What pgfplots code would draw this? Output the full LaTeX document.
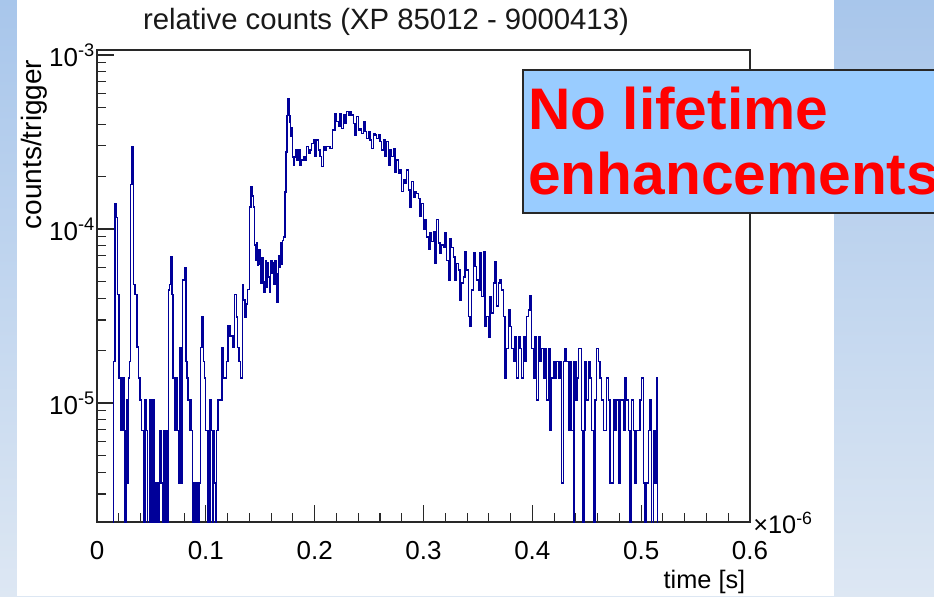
\documentclass[border=0pt]{standalone}
\usepackage{fontspec}
\setmainfont{Liberation Sans}
\usepackage{pgfplots}
\pgfplotsset{compat=1.18}
\definecolor{histblue}{RGB}{0,0,153}
\definecolor{boxblue}{RGB}{153,204,255}
\definecolor{bgtop}{RGB}{168,198,235}
\definecolor{bgbot}{RGB}{221,231,243}
\definecolor{axisgray}{RGB}{40,40,40}

\begin{document}
\begin{tikzpicture}
\begin{scope}[x=0.75pt,y=0.75pt]
\useasboundingbox (0,0) rectangle (934,596);
\clip (0,0) rectangle (934,596);
\shade[top color=bgtop, bottom color=bgbot] (0,0) rectangle (934,596);
\fill[white] (17,0) rectangle (834,596);
\end{scope}

\begin{axis}[
  at={(72.75pt,55.5pt)}, anchor=south west,
  scale only axis, width=489.75pt, height=354pt,
  ymode=log,
  xmin=0, xmax=0.6, ymin=2.07e-6, ymax=1.068e-3,
  axis line style={axisgray, line width=0.8pt},
  tick align=inside, xtick pos=bottom, ytick pos=left,
  xtick={0,0.1,0.2,0.3,0.4,0.5,0.6},
  xticklabels={0,0.1,0.2,0.3,0.4,0.5,0.6},
  minor x tick num=4,
  ytick={1e-5,1e-4,1e-3},
  yticklabels={10\textsuperscript{-5},10\textsuperscript{-4},10\textsuperscript{-3}},
  minor ytick={3e-6,4e-6,5e-6,6e-6,7e-6,8e-6,9e-6,2e-5,3e-5,4e-5,5e-5,6e-5,7e-5,8e-5,9e-5,2e-4,3e-4,4e-4,5e-4,6e-4,7e-4,8e-4,9e-4},
  major tick length=13pt, minor tick length=6.5pt,
  every tick/.style={axisgray, line width=0.8pt},
  /pgf/number format/assume math mode=true,
  ticklabel style={font=\fontsize{19.5}{21}\selectfont, text=black},
  xticklabel style={yshift=-11pt},
  yticklabel style={xshift=2pt},
]
% counts per trigger
\addplot[const plot mark left, histblue, line width=1.1pt, no marks] coordinates {
(0.0000,1e-7) (0.0150,1.73e-5) (0.0165,1.40e-4) (0.0176,1.16e-4) (0.0188,4.20e-5)
(0.0200,1.39e-5) (0.0216,6.94e-6) (0.0224,1.39e-5) (0.0232,6.94e-6) (0.0240,1.39e-5)
(0.0250,6.94e-6) (0.0258,1e-7) (0.0266,3.47e-6) (0.0274,1.04e-5) (0.0282,3.47e-6)
(0.0290,1.39e-5) (0.0298,1.73e-5) (0.0310,1.80e-4) (0.0320,2.95e-4) (0.0335,4.80e-5)
(0.0350,4.20e-5) (0.0366,2.10e-5) (0.0381,1.39e-5) (0.0396,1.04e-5) (0.0411,6.94e-6)
(0.0427,1e-7) (0.0440,1.04e-5) (0.0456,6.94e-6) (0.0466,1e-7) (0.0480,1.04e-5)
(0.0492,1e-7) (0.0502,1.04e-5) (0.0512,1e-7) (0.0520,1.04e-5) (0.0530,1e-7)
(0.0540,3.47e-6) (0.0560,1e-7) (0.0568,3.47e-6) (0.0580,6.94e-6) (0.0590,3.47e-6)
(0.0600,1e-7) (0.0610,6.94e-6) (0.0624,1e-7) (0.0636,6.94e-6) (0.0646,1e-7)
(0.0658,4.45e-5) (0.0668,4.80e-5) (0.0678,6.90e-5) (0.0690,4.20e-5) (0.0700,1.39e-5)
(0.0710,6.94e-6) (0.0718,1.39e-5) (0.0726,6.94e-6) (0.0734,1.39e-5) (0.0742,6.94e-6)
(0.0752,3.47e-6) (0.0764,2.08e-5) (0.0776,3.47e-6) (0.0788,5.10e-5) (0.0802,6.00e-5)
(0.0818,1.73e-5) (0.0828,1.39e-5) (0.0838,1.04e-5) (0.0848,6.94e-6) (0.0858,1.04e-5)
(0.0868,6.94e-6) (0.0878,1e-7) (0.0890,3.47e-6) (0.0904,1e-7) (0.0916,3.47e-6)
(0.0930,1e-7) (0.0940,3.47e-6) (0.0950,2.08e-5) (0.0964,3.12e-5) (0.0978,1.73e-5)
(0.0988,1.39e-5) (0.0998,6.94e-6) (0.1020,1e-7) (0.1040,1.04e-5) (0.1050,6.94e-6)
(0.1060,1e-7) (0.1070,6.94e-6) (0.1080,3.47e-6) (0.1090,1e-7) (0.1100,6.94e-6)
(0.1110,1.04e-5) (0.1148,2.08e-5) (0.1162,1.39e-5) (0.1190,1.73e-5) (0.1205,2.78e-5)
(0.1220,2.43e-5) (0.1250,2.08e-5) (0.1265,4.20e-5) (0.1280,3.12e-5) (0.1290,2.08e-5)
(0.1305,1.73e-5) (0.1318,1.39e-5) (0.1335,4.80e-5) (0.1348,3.90e-5) (0.1360,3.12e-5)
(0.1370,3.70e-5) (0.1385,4.50e-5) (0.1400,1.34e-4) (0.1415,1.75e-4) (0.1428,1.55e-4)
(0.1438,1.34e-4) (0.1446,8.10e-5) (0.1456,6.60e-5) (0.1466,8.30e-5) (0.1476,6.20e-5)
(0.1486,7.60e-5) (0.1496,6.30e-5) (0.1506,4.90e-5) (0.1516,6.80e-5) (0.1526,5.00e-5)
(0.1536,4.30e-5) (0.1546,6.60e-5) (0.1556,4.60e-5) (0.1566,6.40e-5) (0.1576,5.30e-5)
(0.1586,4.30e-5) (0.1596,6.60e-5) (0.1606,5.60e-5) (0.1616,6.40e-5) (0.1626,4.80e-5)
(0.1636,6.60e-5) (0.1646,5.50e-5) (0.1656,3.80e-5) (0.1666,7.00e-5) (0.1676,6.00e-5)
(0.1686,8.30e-5) (0.1696,6.30e-5) (0.1706,8.60e-5) (0.1716,9.00e-5) (0.1726,1.63e-4)
(0.1736,2.77e-4) (0.1746,4.50e-4) (0.1754,5.60e-4) (0.1764,4.50e-4) (0.1772,4.10e-4)
(0.1780,3.40e-4) (0.1788,3.80e-4) (0.1796,2.60e-4) (0.1806,2.33e-4) (0.1816,2.60e-4)
(0.1826,2.85e-4) (0.1836,2.49e-4) (0.1850,2.85e-4) (0.1865,2.33e-4) (0.1880,2.49e-4)
(0.1896,2.61e-4) (0.1911,2.49e-4) (0.1927,2.97e-4) (0.1942,2.73e-4) (0.1957,2.85e-4)
(0.1973,3.11e-4) (0.1988,3.25e-4) (0.2003,2.61e-4) (0.2019,3.25e-4) (0.2034,2.85e-4)
(0.2049,2.61e-4) (0.2065,2.28e-4) (0.2080,2.97e-4) (0.2095,2.85e-4) (0.2111,2.97e-4)
(0.2141,2.90e-4) (0.2163,3.70e-4) (0.2187,4.62e-4) (0.2202,4.15e-4) (0.2218,3.88e-4)
(0.2233,4.62e-4) (0.2248,3.79e-4) (0.2264,4.52e-4) (0.2279,4.05e-4) (0.2294,4.72e-4)
(0.2310,4.52e-4) (0.2325,4.72e-4) (0.2340,4.52e-4) (0.2355,4.05e-4) (0.2371,3.47e-4)
(0.2386,4.43e-4) (0.2401,3.70e-4) (0.2417,3.79e-4) (0.2432,3.55e-4) (0.2447,4.15e-4)
(0.2463,3.63e-4) (0.2478,3.32e-4) (0.2493,3.63e-4) (0.2509,3.25e-4) (0.2524,2.90e-4)
(0.2539,3.55e-4) (0.2555,3.47e-4) (0.2570,3.32e-4) (0.2585,3.47e-4) (0.2601,3.18e-4)
(0.2616,2.85e-4) (0.2631,3.25e-4) (0.2646,2.61e-4) (0.2662,3.18e-4) (0.2677,2.33e-4)
(0.2692,2.85e-4) (0.2708,2.61e-4) (0.2723,2.90e-4) (0.2738,2.13e-4) (0.2754,2.49e-4)
(0.2769,2.09e-4) (0.2784,2.18e-4) (0.2800,1.64e-4) (0.2815,1.91e-4) (0.2830,1.83e-4)
(0.2846,2.18e-4) (0.2861,1.68e-4) (0.2876,1.34e-4) (0.2892,1.87e-4) (0.2907,1.53e-4)
(0.2922,1.64e-4) (0.2937,1.60e-4) (0.2953,1.50e-4) (0.2968,1.18e-4) (0.2983,1.40e-4)
(0.2999,9.90e-5) (0.3014,1.13e-4) (0.3029,9.00e-5) (0.3045,7.60e-5) (0.3060,9.50e-5)
(0.3075,8.50e-5) (0.3090,9.70e-5) (0.3106,6.35e-5) (0.3121,1.13e-4) (0.3136,8.30e-5)
(0.3152,7.30e-5) (0.3167,8.10e-5) (0.3182,7.90e-5) (0.3198,9.50e-5) (0.3213,6.60e-5)
(0.3228,5.10e-5) (0.3244,8.80e-5) (0.3259,7.80e-5) (0.3274,6.90e-5) (0.3290,5.10e-5)
(0.3305,6.35e-5) (0.3320,5.80e-5) (0.3335,3.90e-5) (0.3351,4.88e-5) (0.3366,5.30e-5)
(0.3381,7.40e-5) (0.3397,5.80e-5) (0.3412,3.14e-5) (0.3427,2.75e-5) (0.3443,4.46e-5)
(0.3458,7.30e-5) (0.3473,6.10e-5) (0.3489,5.10e-5) (0.3504,4.46e-5) (0.3519,7.30e-5)
(0.3535,4.10e-5) (0.3550,7.40e-5) (0.3565,2.75e-5) (0.3581,3.14e-5) (0.3596,2.40e-5)
(0.3611,4.10e-5) (0.3626,3.30e-5) (0.3642,4.88e-5) (0.3657,6.50e-5) (0.3672,3.60e-5)
(0.3688,4.88e-5) (0.3703,5.10e-5) (0.3718,4.46e-5) (0.3734,3.14e-5) (0.3749,1.39e-5)
(0.3764,2.06e-5) (0.3780,3.42e-5) (0.3795,2.75e-5) (0.3810,2.06e-5) (0.3826,1.73e-5)
(0.3841,2.40e-5) (0.3856,1.39e-5) (0.3871,2.40e-5) (0.3887,2.06e-5) (0.3902,1.39e-5)
(0.3917,2.40e-5) (0.3933,1.73e-5) (0.3948,3.14e-5) (0.3963,3.42e-5) (0.3979,4.16e-5)
(0.3994,2.06e-5) (0.4009,1.39e-5) (0.4025,2.40e-5) (0.4040,1.04e-5) (0.4055,2.40e-5)
(0.4071,1.73e-5) (0.4086,2.06e-5) (0.4101,1.39e-5) (0.4117,2.06e-5) (0.4132,1.04e-5)
(0.4147,2.06e-5) (0.4162,6.94e-6) (0.4178,1.39e-5) (0.4193,1.73e-5) (0.4208,1.39e-5)
(0.4224,1.73e-5) (0.4239,1.39e-5) (0.4254,1.73e-5) (0.4270,3.47e-6) (0.4285,1.73e-5)
(0.4300,2.06e-5) (0.4316,1.73e-5) (0.4331,6.94e-6) (0.4346,1.73e-5) (0.4361,6.94e-6)
(0.4377,1e-7) (0.4383,1.73e-5) (0.4401,1.04e-5) (0.4413,1.39e-5) (0.4423,2.06e-5)
(0.4453,6.94e-6) (0.4462,1e-7) (0.4475,6.94e-6) (0.4484,1.73e-5) (0.4499,1.04e-5)
(0.4514,1.73e-5) (0.4530,1.39e-5) (0.4545,6.94e-6) (0.4560,1e-7) (0.4576,1.04e-5)
(0.4591,2.06e-5) (0.4606,1.73e-5) (0.4622,1.39e-5) (0.4637,1.04e-5) (0.4652,6.94e-6)
(0.4683,1.39e-5) (0.4698,1.04e-5) (0.4714,3.47e-6) (0.4744,1.04e-5) (0.4759,6.94e-6)
(0.4775,1.04e-5) (0.4790,3.47e-6) (0.4805,1.04e-5) (0.4836,6.94e-6) (0.4851,1.39e-5)
(0.4867,1.04e-5) (0.4882,6.94e-6) (0.4897,1e-7) (0.4913,1.04e-5) (0.4928,6.94e-6)
(0.4943,3.47e-6) (0.4959,6.94e-6) (0.4989,1.04e-5) (0.5005,1.39e-5) (0.5020,3.47e-6)
(0.5035,1e-7) (0.5051,3.47e-6) (0.5066,6.94e-6) (0.5081,1.04e-5) (0.5096,1e-7)
(0.5112,6.94e-6) (0.5127,3.47e-6) (0.5142,1.39e-5) (0.5152,1e-7) (0.6000,1e-7)
};
\end{axis}

\begin{scope}[x=0.75pt,y=0.75pt]
\clip (0,0) rectangle (934,596);
\node[anchor=base, font=\fontsize{22}{24}\selectfont, text=black!90] at (386,566)
  {relative counts (XP 85012 - 9000413)};
\node[anchor=base east, rotate=90, font=\fontsize{21}{23}\selectfont] at (41,541)
  {counts/trigger};
\node[anchor=base east, font=\fontsize{19}{21}\selectfont] at (750,8) {time [s]};
\node[anchor=base west, inner sep=0pt, font=\fontsize{19}{21}\selectfont] at (753,63)
  {\texttimes10\textsuperscript{-6}};
\filldraw[fill=boxblue, draw=axisgray, line width=1pt] (523,383) rectangle (960,526);
\node[anchor=base west, inner sep=0pt, text=red, font=\fontsize{44}{46}\selectfont\bfseries]
  at (528,466) {No lifetime};
\node[anchor=base west, inner sep=0pt, text=red, font=\fontsize{44}{46}\selectfont\bfseries]
  at (528,401) {enhancements};
\end{scope}
\end{tikzpicture}
\end{document}
